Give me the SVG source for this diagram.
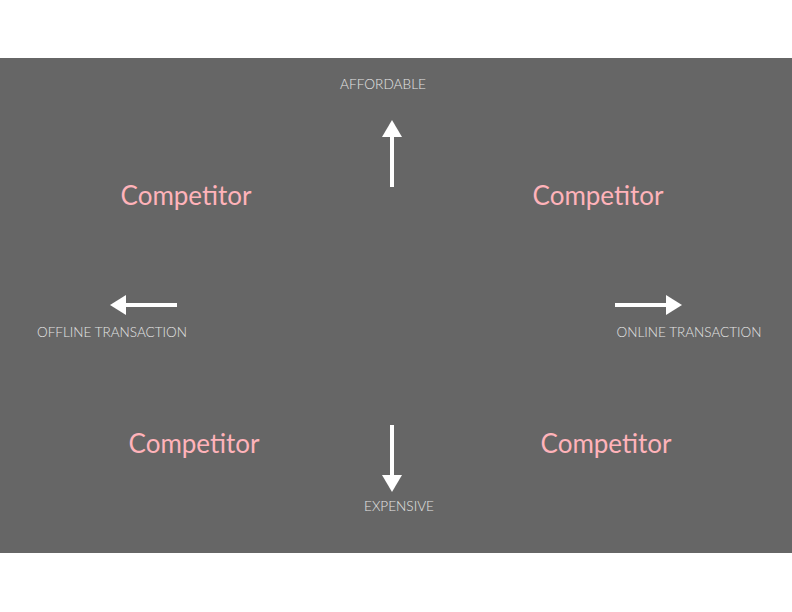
<svg xmlns="http://www.w3.org/2000/svg" width="792" height="612" viewBox="0 0 792 612">
<style>
.lbl{font-family:Lato,"Open Sans","Liberation Sans",sans-serif;font-size:13px;fill:#e4e4e4;text-anchor:middle;font-weight:300}
.comp{font-family:Lato,"Open Sans","Liberation Sans",sans-serif;font-size:26px;fill:#ffb3ba;text-anchor:middle}
.shaft{stroke:#ffffff;stroke-width:4;fill:none}
.head{fill:#ffffff}
</style>
<rect x="0" y="58" width="792" height="495" fill="#666666"/>
<g id="connectors">
<line class="shaft" x1="392" y1="187" x2="392" y2="134"/>
<polygon class="head" points="392,120 402,137 382,137"/>
<line class="shaft" x1="177" y1="305" x2="123" y2="305"/>
<polygon class="head" points="110,305 126,295 126,315"/>
<line class="shaft" x1="615" y1="305" x2="669" y2="305"/>
<polygon class="head" points="682,305 666,295 666,315"/>
<line class="shaft" x1="392" y1="425" x2="392" y2="478"/>
<polygon class="head" points="392,492 382,475 402,475"/>
</g>
<g id="affordable"><text class="lbl" x="383" y="89" textLength="86" lengthAdjust="spacingAndGlyphs">AFFORDABLE</text></g>
<g id="expensive"><text class="lbl" x="399" y="511" textLength="70" lengthAdjust="spacingAndGlyphs">EXPENSIVE</text></g>
<g id="offline"><text class="lbl" x="112" y="337" textLength="150" lengthAdjust="spacingAndGlyphs">OFFLINE TRANSACTION</text></g>
<g id="online"><text class="lbl" x="689" y="337" textLength="145" lengthAdjust="spacingAndGlyphs">ONLINE TRANSACTION</text></g>
<g id="comp-tl"><text class="comp" x="186" y="205">Competitor</text></g>
<g id="comp-tr"><text class="comp" x="598" y="205">Competitor</text></g>
<g id="comp-bl"><text class="comp" x="194" y="453">Competitor</text></g>
<g id="comp-br"><text class="comp" x="606" y="453">Competitor</text></g>
</svg>
